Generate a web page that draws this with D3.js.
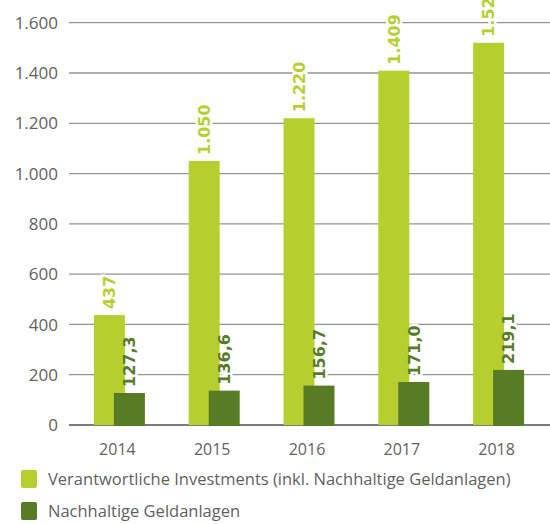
<!DOCTYPE html>
<html>
<head>
<meta charset="utf-8">
<script src="https://cdn.jsdelivr.net/npm/d3@7"></script>
<style>
  body { margin: 0; background: #fff; }
  text { font-family: "Open Sans", sans-serif; }
</style>
</head>
<body>
<div id="chart"></div>
<script>
let years = ['2014', '2015', '2016', '2017', '2018'];
let verantwortlich = [437, 1050, 1220, 1409, 1520];
let nachhaltig = [127.3, 136.6, 156.7, 171.0, 219.1];
let yTicks = [0, 200, 400, 600, 800, 1000, 1200, 1400, 1600];
let seriesNames = [
  'Verantwortliche Investments (inkl. Nachhaltige Geldanlagen)',
  'Nachhaltige Geldanlagen'
];

let width = 550;
let height = 524;
let lightGreen = '#b6cf2e';
let darkGreen = '#587b26';
let textGrey = '#5f5f5f';

// german number format: 1.600 / 127,3
let deFormat = d3.formatLocale({decimal: ',', thousands: '.', grouping: [3], currency: ['', '€']});
let fmtLight = deFormat.format(',.0f');
let fmtDark = deFormat.format(',.1f');

let svg = d3.select('#chart')
            .append('svg')
            .attr('width', width)
            .attr('height', height);

let x = d3.scaleBand()
          .domain(years)
          .range([72, 546]);

let y = d3.scaleLinear()
          .domain([0, 1600])
          .range([425, 22.7]);

let barW = 31;
let offset = 20;

// gridlines
svg.append('g')
   .selectAll('line')
   .data(yTicks.filter(d => d > 0))
   .enter().append('line')
   .attr('x1', 69)
   .attr('x2', width)
   .attr('y1', d => y(d))
   .attr('y2', d => y(d))
   .attr('stroke', '#949494')
   .attr('stroke-width', 1.3);

// y tick labels
svg.append('g')
   .selectAll('text')
   .data(yTicks)
   .enter().append('text')
   .attr('x', 58)
   .attr('y', d => y(d))
   .attr('dy', '0.36em')
   .attr('text-anchor', 'end')
   .attr('fill', textGrey)
   .style('font-size', '17px')
   .text(d => fmtLight(d));

// label positions
let lightLabels = years.map((yr, i) => ({
  cx: x(yr) + x.bandwidth() / 2 - (barW + offset) / 2 + barW / 2,
  top: y(verantwortlich[i]),
  text: fmtLight(verantwortlich[i]),
  color: lightGreen
}));
let darkLabels = years.map((yr, i) => ({
  cx: x(yr) + x.bandwidth() / 2 - (barW + offset) / 2 + offset + barW / 2,
  top: y(nachhaltig[i]),
  text: fmtDark(nachhaltig[i]),
  color: darkGreen
}));
let allLabels = lightLabels.concat(darkLabels);

// white halo behind labels so gridlines break (drawn before bars)
svg.append('g')
   .selectAll('text')
   .data(allLabels)
   .enter().append('text')
   .attr('transform', d => `translate(${d.cx}, ${d.top - 6}) rotate(-90)`)
   .attr('dy', '0.36em')
   .attr('fill', '#fff')
   .attr('stroke', '#fff')
   .attr('stroke-width', 5)
   .style('font-family', '"DejaVu Sans", sans-serif')
   .style('font-weight', 'bold')
   .style('font-size', '16px')
   .text(d => d.text);

// baseline
svg.append('line')
   .attr('x1', 69)
   .attr('x2', width)
   .attr('y1', y(0))
   .attr('y2', y(0))
   .attr('stroke', '#7a7a7a')
   .attr('stroke-width', 2);

// bars
let groups = svg.append('g')
                .selectAll('g')
                .data(years)
                .enter().append('g')
                .attr('transform', d => `translate(${x(d) + x.bandwidth() / 2 - (barW + offset) / 2}, 0)`);

groups.append('rect')
      .attr('x', 0)
      .attr('width', barW)
      .attr('y', (d, i) => y(verantwortlich[i]))
      .attr('height', (d, i) => y(0) - y(verantwortlich[i]))
      .attr('fill', lightGreen);

groups.append('rect')
      .attr('x', offset)
      .attr('width', barW)
      .attr('y', (d, i) => y(nachhaltig[i]))
      .attr('height', (d, i) => y(0) - y(nachhaltig[i]) + 1)
      .attr('fill', darkGreen);

// value labels
svg.append('g')
   .selectAll('text')
   .data(allLabels)
   .enter().append('text')
   .attr('transform', d => `translate(${d.cx}, ${d.top - 6}) rotate(-90)`)
   .attr('dy', '0.36em')
   .attr('fill', d => d.color)
   .style('font-family', '"DejaVu Sans", sans-serif')
   .style('font-weight', 'bold')
   .style('font-size', '16px')
   .text(d => d.text);

// x axis labels
svg.append('g')
   .selectAll('text')
   .data(years)
   .enter().append('text')
   .attr('x', d => x(d) + x.bandwidth() / 2 - 2)
   .attr('y', 455)
   .attr('text-anchor', 'middle')
   .attr('fill', textGrey)
   .style('font-size', '16px')
   .text(d => d);

// legend
let legend = svg.append('g')
                .selectAll('g')
                .data(seriesNames)
                .enter().append('g')
                .attr('transform', (d, i) => `translate(21, ${470 + i * 32})`);

legend.append('rect')
      .attr('width', 16)
      .attr('height', 18)
      .attr('rx', 2)
      .attr('fill', (d, i) => i === 0 ? lightGreen : darkGreen);

legend.append('text')
      .attr('x', 27)
      .attr('y', 15)
      .attr('fill', textGrey)
      .style('font-size', '16.5px')
      .text(d => d);
</script>
</body>
</html>
